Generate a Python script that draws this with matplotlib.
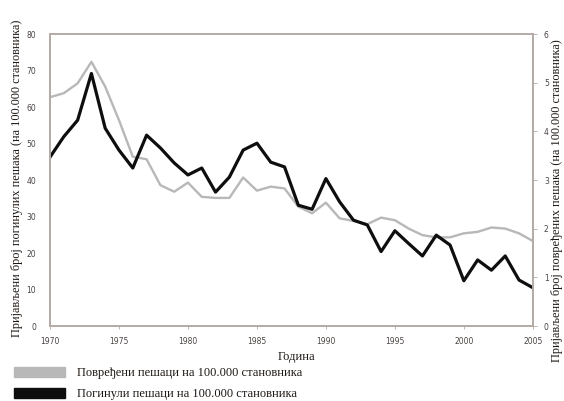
import matplotlib.pyplot as plt
from matplotlib.patches import Rectangle

# Pedestrians per 100,000 inhabitants, 1970-2005
years = list(range(1970, 2006))
injured = [62.7, 63.8, 66.5, 72.4, 65.6, 56.4, 46.4, 45.7, 38.6, 36.8,
           39.3, 35.4, 35.1, 35.1, 40.7, 37.1, 38.2, 37.7, 32.7, 30.9,
           33.8, 29.5, 28.8, 27.9, 29.7, 29.0, 26.7, 24.9, 24.3, 24.3,
           25.4, 25.8, 27.0, 26.7, 25.4, 23.3]
killed = [46.3, 51.9, 56.4, 69.2, 54.2, 48.2, 43.3, 52.3, 48.8, 44.7,
          41.4, 43.3, 36.7, 40.8, 48.2, 50.1, 44.9, 43.6, 33.1, 32.0,
          40.4, 34.0, 29.0, 27.7, 20.4, 26.1, 22.6, 19.2, 24.9, 22.2,
          12.4, 18.1, 15.3, 19.2, 12.6, 10.5]

left_ticks = list(range(0, 90, 10))
right_ticks = list(range(0, 7))
year_ticks = list(range(1970, 2010, 5))

spine_col = '#b3aaa6'
tick_col = '#4a4442'
text_col = '#1e1814'
serif = 'Liberation Serif'

fig = plt.figure(figsize=(5.64, 4.01), dpi=100)
ax = fig.add_axes([0.0887, 0.187, 0.856, 0.728])

ax.plot(years, injured, color='#b8b8b8', lw=1.7, solid_joinstyle='round')
ax.plot(years, killed, color='#0e0e0e', lw=2.3, solid_joinstyle='round')

ax.set_xlim(1970, 2005)
ax.set_ylim(0, 80)
ax.set_xticks(year_ticks)
ax.set_yticks(left_ticks)

ax2 = ax.twinx()
ax2.set_ylim(0, 6)
ax2.set_yticks(right_ticks)

for a in (ax, ax2):
    for s in a.spines.values():
        s.set_color(spine_col)
        s.set_linewidth(1.2)
    a.tick_params(colors=spine_col, labelcolor=tick_col, labelsize=5.5,
                  length=3, width=0.6)
ax.tick_params(axis='y', length=0, pad=10)
ax.tick_params(axis='x', length=2, pad=6)
ax2.tick_params(axis='y', length=3, pad=5)

fig.text(0.030, 0.555, 'Пријављени број погинулих пешака (на 100.000 становника)',
         rotation=90, ha='center', va='center', fontsize=8.8,
         family=serif, color=text_col)
fig.text(0.987, 0.50, 'Пријављени број повређених пешака (на 100.000 становника)',
         rotation=90, ha='center', va='center', fontsize=8.8,
         family=serif, color=text_col)
fig.text(0.525, 0.110, 'Година', ha='center', va='center', fontsize=9,
         family=serif, color=text_col)

# legend drawn by hand under the axis
legend_rows = [('#b8b8b8', 'Повређени пешаци на 100.000 становника', 0.073),
               ('#0e0e0e', 'Погинули пешаци на 100.000 становника', 0.020)]
for col, label, yy in legend_rows:
    fig.patches.append(Rectangle((0.025, yy - 0.012), 0.09, 0.024,
                                 transform=fig.transFigure, color=col))
    fig.text(0.137, yy - 0.003, label, ha='left', va='center', fontsize=9,
             family=serif, color=text_col)

fig.savefig('out.png', dpi=100, facecolor='white')
